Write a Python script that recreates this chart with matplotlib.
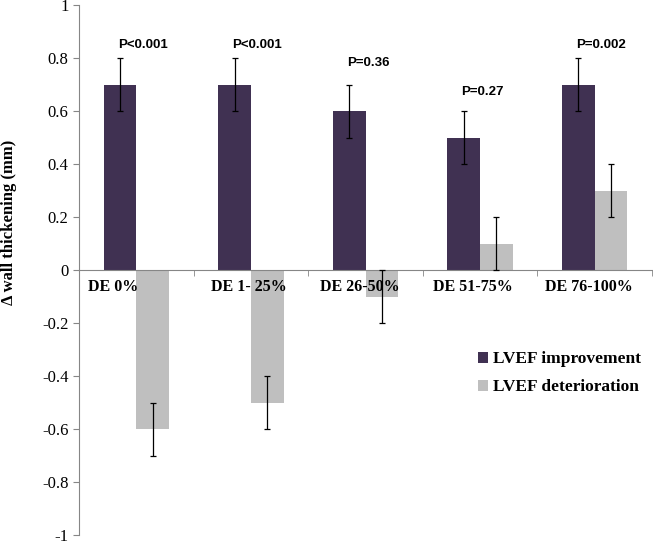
import numpy as np
import matplotlib
matplotlib.use("Agg")
import matplotlib.pyplot as plt
from matplotlib.patches import Patch

# data
categories = ['DE 0%', 'DE 1- 25%', 'DE 26-50%', 'DE 51-75%', 'DE 76-100%']
improvement = [0.7, 0.7, 0.6, 0.5, 0.7]
improvementErr = [0.1, 0.1, 0.1, 0.1, 0.1]
deterioration = [-0.6, -0.5, -0.1, 0.1, 0.3]
deteriorationErr = [0.1, 0.1, 0.1, 0.1, 0.1]
pLabels = ['P<0.001', 'P<0.001', 'P=0.36', 'P=0.27', 'P=0.002']
pHeights = [0.825, 0.825, 0.76, 0.65, 0.825]

purple = '#403152'
grey = '#bfbfbf'
axisGrey = '#868686'
serif = 'Liberation Serif'

fig = plt.figure(figsize=(6.53, 5.44), dpi=100)
ax = fig.add_axes([79 / 653, 9 / 544, 573 / 653, 530 / 544])

x = np.arange(len(categories))
w = 0.285

ax.bar(x - w / 2, improvement, w, color=purple, zorder=2)
ax.bar(x + w / 2, deterioration, w, color=grey, zorder=2)
ax.errorbar(x - w / 2, improvement, yerr=improvementErr, fmt='none',
            ecolor='black', elinewidth=0.9, capsize=2.5, capthick=0.9, zorder=3)
ax.errorbar(x + w / 2, deterioration, yerr=deteriorationErr, fmt='none',
            ecolor='black', elinewidth=0.9, capsize=2.5, capthick=0.9, zorder=3)

# p values above the improvement bars
for i, (lab, h) in enumerate(zip(pLabels, pHeights)):
    ax.text(i - w / 2 - 0.02, h, lab, ha='left', va='bottom',
            fontsize=9.5, fontweight='bold', family='Liberation Sans')

# category labels sit just under the zero line
labelShift = [-0.2, -0.02, -0.05, -0.06, -0.05]
for i, lab in enumerate(categories):
    ax.text(i + labelShift[i], -0.035, lab, ha='center', va='top',
            fontsize=11.5, fontweight='bold', family=serif)

ax.set_xlim(-0.5, len(categories) - 0.5)
ax.set_ylim(-1, 1)
ax.set_yticks(np.arange(-1, 1.01, 0.2))
ax.set_yticklabels(['-1', '-0.8', '-0.6', '-0.4', '-0.2', '0',
                    '0.2', '0.4', '0.6', '0.8', '1'], family=serif, fontsize=12)

ax.spines['top'].set_visible(False)
ax.spines['right'].set_visible(False)
ax.spines['left'].set_color(axisGrey)
ax.spines['bottom'].set_color(axisGrey)
ax.spines['bottom'].set_position(('data', 0))
ax.tick_params(axis='y', colors=axisGrey, labelcolor='black', length=4, direction='out')
ax.set_xticks([])
ax.set_xticks(np.arange(-0.5, len(categories), 1.0), minor=True)
ax.tick_params(axis='x', which='minor', colors=axisGrey, length=4, direction='out',
               labelbottom=False)

ax.set_ylabel('\u0394 wall thickening (mm)', family=serif, fontweight='bold',
              fontsize=12)
ax.yaxis.set_label_coords(-0.108, 0.59)

handles = [Patch(facecolor=purple, label='LVEF improvement'),
           Patch(facecolor=grey, label='LVEF deterioration')]
ax.legend(handles=handles, loc='upper left', bbox_to_anchor=(0.669, 0.376),
          frameon=False, handlelength=0.6, handleheight=0.6, handletextpad=0.25,
          labelspacing=0.7, prop={'family': serif, 'weight': 'bold', 'size': 12.5})

fig.savefig('out.png', dpi=100)
